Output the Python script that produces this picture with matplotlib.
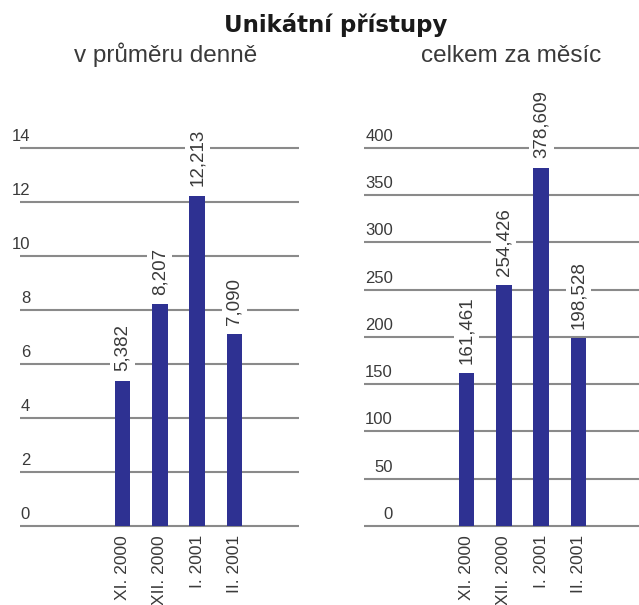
import matplotlib
matplotlib.use('Agg')
import matplotlib.pyplot as plt

# Data (values in thousands, Czech decimal comma)
months = ['XI. 2000', 'XII. 2000', 'I. 2001', 'II. 2001']
daily = [5.382, 8.207, 12.213, 7.090]
monthly = [161.461, 254.426, 378.609, 198.528]
daily_ticks = [0, 2, 4, 6, 8, 10, 12, 14]
monthly_ticks = [0, 50, 100, 150, 200, 250, 300, 350, 400]

title = 'Unikátní přístupy'
sub_left = 'v průměru denně'
sub_right = 'celkem za měsíc'

W, H = 639, 605
bar_color = '#2E3192'
text_color = '#3a3a3a'
grid_color = '#8a8a8a'

plt.rcParams['font.family'] = ['Liberation Sans', 'DejaVu Sans']

fig = plt.figure(figsize=(W / 100, H / 100), dpi=100)


def make_panel(x0, x1, values, ticks, label_x):
    # axes spans pixel rows 100..540, zero line at y=526, top tick at y=147.7
    top_px, bot_px, zero_px, max_px = 100, 540, 526, 147.7
    ax = fig.add_axes([x0 / W, 1 - bot_px / H, (x1 - x0) / W, (bot_px - top_px) / H])
    scale = (zero_px - max_px) / ticks[-1]
    ax.set_ylim(-(bot_px - zero_px) / scale, (zero_px - top_px) / scale)
    ax.set_xlim(-2.75, 3 + (x1 - (x0 + 102.5 + 3 * 37.3)) / 37.3)
    ax.set_xticks([])
    ax.set_yticks([])
    for s in ax.spines.values():
        s.set_visible(False)

    for t in ticks:
        ax.axhline(t, color=grid_color, lw=1.5, zorder=0)
        ax.annotate(str(t), (label_x, t), xycoords=ax.get_yaxis_transform(),
                    xytext=(0, 7 * 0.72), textcoords='offset points',
                    ha='right', va='baseline', fontsize=12, color=text_color)

    pos = range(len(values))
    ax.bar(pos, values, width=0.42, color=bar_color, zorder=2)

    for i, v in zip(pos, values):
        ax.annotate(f'{v:.3f}'.replace('.', ','), (i, v),
                    xytext=(0, 7), textcoords='offset points',
                    rotation=90, ha='center', va='bottom', fontsize=13.5,
                    color=text_color, zorder=3,
                    bbox=dict(facecolor='white', edgecolor='none', pad=3))
        ax.annotate(months[i], (i, 0), xytext=(0, -9 * 0.72),
                    textcoords='offset points', rotation=90,
                    ha='center', va='top', fontsize=12.5, color=text_color,
                    annotation_clip=False)
    return ax


make_panel(20, 299, daily, daily_ticks, (30 - 20) / 279)
make_panel(364, 639, monthly, monthly_ticks, (393 - 364) / 275)

fig.text(336 / W, 1 - 32 / H, title, ha='center', va='baseline',
         fontsize=16.5, fontweight='heavy', family=['DejaVu Sans'], color='#1a1a1a')
fig.text(166 / W, 1 - 62 / H, sub_left, ha='center', va='baseline',
         fontsize=17.5, color=text_color)
fig.text(511 / W, 1 - 62 / H, sub_right, ha='center', va='baseline',
         fontsize=17.5, color=text_color)

fig.savefig('out.png', dpi=100)
